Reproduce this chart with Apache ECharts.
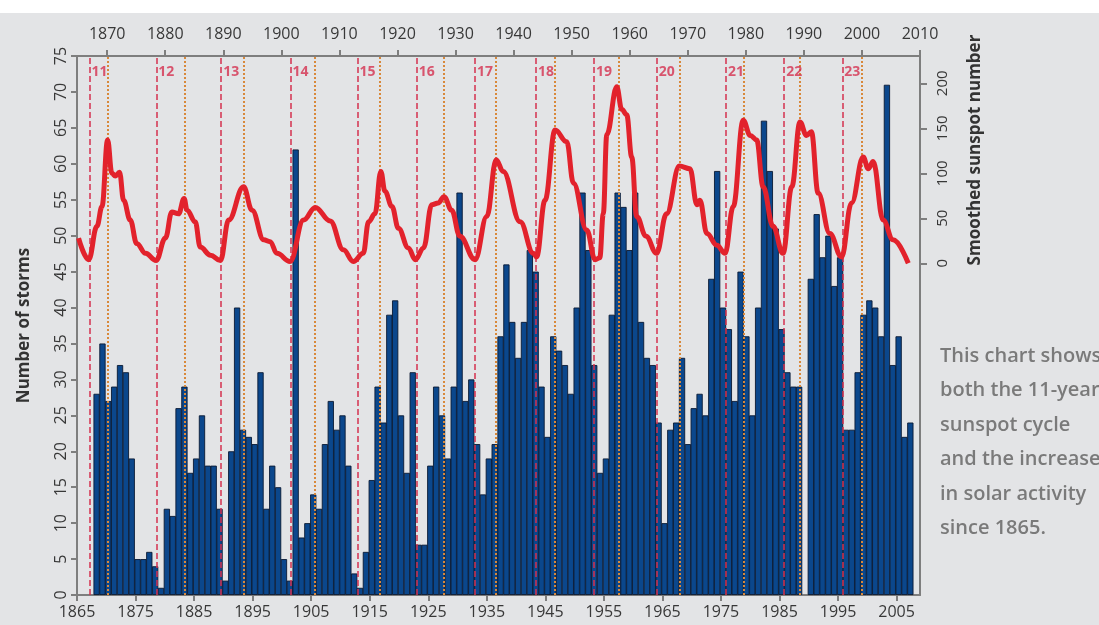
<!DOCTYPE html>
<html>
<head>
<meta charset="utf-8">
<script src="https://cdn.jsdelivr.net/npm/echarts@6/dist/echarts.min.js"></script>
<style>
  html, body { margin: 0; padding: 0; background: #fff; }
  #chart { width: 1099px; height: 625px; background: linear-gradient(#fff 0 13px, #e3e4e6 13px); }
</style>
</head>
<body>
<div id="chart"></div>
<script>
// storms per year, first bar is 1868 (1989 has no bar)
const firstYear = 1868
const storms = [
  28, 35, 27, 29, 32, 31, 19, 5, 5, 6, 4, 1,            // 1868-1879
  12, 11, 26, 29, 17, 19, 25, 18, 18, 12,               // 1880-1889
  2, 20, 40, 23, 22, 21, 31, 12, 18, 15,                // 1890-1899
  5, 2, 62, 8, 10, 14, 12, 21, 27, 23,                  // 1900-1909
  25, 18, 3, 1, 6, 16, 29, 24, 39, 41,                  // 1910-1919
  25, 17, 31, 7, 7, 18, 29, 25, 19, 29,                 // 1920-1929
  56, 27, 30, 21, 14, 19, 21, 36, 46, 38,               // 1930-1939
  33, 38, 48, 45, 29, 22, 36, 34, 32, 28,               // 1940-1949
  40, 56, 48, 32, 17, 19, 39, 56, 54, 48,               // 1950-1959
  56, 38, 33, 32, 24, 10, 23, 24, 33, 21,               // 1960-1969
  26, 28, 25, 44, 59, 40, 37, 27, 45, 36,               // 1970-1979
  25, 40, 66, 59, 51, 37, 31, 29, 29, '-',              // 1980-1989
  44, 53, 47, 50, 43, 47, 23, 23, 31, 39,               // 1990-1999
  41, 40, 36, 71, 32, 36, 22, 24                        // 2000-2007
]

// smoothed sunspot number
const spotYears = [
  1865.27, 1867.0, 1868.4, 1869.27, 1870.23, 1870.95, 1871.55, 1872.27, 1872.96, 1874.1,
  1875.2, 1876.7, 1878.5, 1880.1, 1881.2, 1882.35, 1883.3, 1883.8, 1885.2, 1886.05,
  1887.8, 1889.5, 1890.9, 1893.45, 1894.9, 1896.9, 1898.0, 1899.15, 1901.4, 1903.7,
  1905.7, 1908.25, 1910.5, 1912.2, 1913.9, 1914.8, 1915.9, 1916.9, 1917.6, 1918.8,
  1919.9, 1921.6, 1922.8, 1924.2, 1925.6, 1926.7, 1927.7, 1929.0, 1930.4, 1933.0,
  1935.0, 1936.6, 1937.8, 1940.7, 1942.95, 1943.5, 1944.95, 1946.66, 1948.66, 1949.8,
  1952.07, 1953.5, 1954.3, 1954.9, 1955.5, 1957.2, 1958.05, 1958.9, 1959.76, 1960.6,
  1962.2, 1964.0, 1965.7, 1967.9, 1969.7, 1970.9, 1971.4, 1972.6, 1974.3, 1975.7,
  1977.1, 1978.8, 1980.0, 1981.1, 1982.2, 1983.9, 1985.6, 1987.1, 1988.5, 1989.6,
  1990.45, 1991.6, 1993.6, 1995.6, 1997.3, 1999.3, 2000.15, 2001.0, 2002.7, 2004.4,
  2007.0
]
const spotValues = [
  28, 4, 41, 63, 137, 100, 97, 101, 70, 48,
  22, 11, 3, 28, 57, 55, 72, 59, 46, 18,
  9, 3, 48, 85, 59, 26, 24, 11, 2, 48,
  62, 47, 15, 2, 11, 46, 55, 102, 80, 63,
  39, 17, 4, 17, 65, 67, 74, 59, 30, 4,
  52, 115, 102, 46, 11, 7, 70, 148, 135, 89,
  37, 4, 6, 55, 143, 196, 171, 165, 118, 52,
  30, 11, 55, 108, 105, 65, 70, 33, 20, 11,
  63, 159, 142, 137, 85, 41, 11, 85, 157, 142,
  146, 78, 33, 7, 67, 118, 105, 113, 48, 26,
  0
]

// solar cycles: start (minimum) and peak (maximum) as drawn
const cycleNumbers = [11, 12, 13, 14, 15, 16, 17, 18, 19, 20, 21, 22, 23]
const cycleMin = [1867.15, 1878.54, 1889.64, 1901.47, 1912.91, 1923.05, 1933.0, 1943.42, 1953.32, 1964.03, 1975.86, 1985.81, 1995.72]
const cycleMax = [1870.23, 1883.49, 1893.45, 1905.69, 1916.78, 1927.71, 1936.59, 1946.66, 1957.59, 1967.89, 1978.81, 1988.5, 1999.13]

const bottomTicks = [1865, 1875, 1885, 1895, 1905, 1915, 1925, 1935, 1945, 1955, 1965, 1975, 1985, 1995, 2005]
const topTicks = [1870, 1880, 1890, 1900, 1910, 1920, 1930, 1940, 1950, 1960, 1970, 1980, 1990, 2000, 2010]
const spotTicks = [0, 50, 100, 150, 200]

const axisGray = '#7e7e7e'
const labelColor = '#383838'
const cycleRed = '#d5304f'
const fontFamily = 'Open Sans'
const plain = v => String(v)

// bars in the original sit a bit right of the year tick
const barShift = 0.35

const chart = echarts.init(document.getElementById('chart'))

const axisLine = { onZero: false, lineStyle: { color: axisGray, width: 2 } }
const tickStyle = { color: axisGray, width: 2 }

chart.setOption({
  animation: false,
  textStyle: { fontFamily },
  grid: { left: 77, right: 179, top: 56, bottom: 30 },
  xAxis: [
    {
      type: 'value', position: 'bottom', min: 1865, max: 2009,
      axisLine,
      axisTick: { customValues: bottomTicks, length: 6, lineStyle: tickStyle },
      axisLabel: { customValues: bottomTicks, formatter: plain, color: labelColor, fontSize: 16, margin: 9 },
      splitLine: { show: false },
    },
    {
      type: 'value', position: 'top', min: 1864.8, max: 2010,
      axisLine,
      axisTick: { customValues: topTicks, length: 6, lineStyle: tickStyle },
      axisLabel: { customValues: topTicks, formatter: plain, color: labelColor, fontSize: 16, margin: 14 },
      splitLine: { show: false },
    },
    {
      // hidden axis for the bars only
      type: 'value', show: false, min: 1865 - barShift, max: 2009 - barShift,
      splitLine: { show: false },
    },
  ],
  yAxis: [
    {
      type: 'value', min: 0, max: 75, interval: 5,
      name: 'Number of storms', nameLocation: 'middle', nameGap: 44, nameRotate: 90,
      nameTextStyle: { color: '#333', fontSize: 17, fontWeight: 'bold' },
      axisLine: { show: true, ...axisLine },
      axisTick: { show: true, length: 6, lineStyle: tickStyle },
      axisLabel: { rotate: 90, formatter: plain, color: labelColor, fontSize: 16, margin: 8 },
      splitLine: { show: false },
    },
    {
      type: 'value', position: 'right', min: -368.6, max: 230.3,
      axisLine: { show: true, ...axisLine },
      axisTick: { show: true, customValues: spotTicks, length: 7, lineStyle: tickStyle },
      axisLabel: { customValues: spotTicks, formatter: plain, rotate: 90, color: labelColor, fontSize: 15, margin: 15 },
      splitLine: { show: false },
    },
  ],
  graphic: [
    {
      type: 'text', x: 975, y: 150, rotation: Math.PI / 2,
      style: {
        text: 'Smoothed sunspot number', fill: '#333',
        font: 'bold 17px "Open Sans"', textAlign: 'center', textVerticalAlign: 'middle',
      },
    },
    {
      type: 'text', x: 940, y: 339,
      style: {
        text: 'This chart shows\nboth the 11-year\nsunspot cycle\nand the increase\nin solar activity\nsince 1865.',
        fill: '#7a7a7a', font: '600 20px "Open Sans"', lineHeight: 34.5,
      },
    },
  ],
  series: [
    {
      name: 'cycle minimum', type: 'line', data: [], z: 1,
      markLine: {
        silent: true, symbol: 'none', animation: false,
        label: { show: false },
        lineStyle: { color: cycleRed, width: 1.5, type: [6, 3] },
        data: cycleMin.map(x => ({ xAxis: x })),
      },
    },
    {
      name: 'cycle maximum', type: 'line', data: [], z: 1,
      markLine: {
        silent: true, symbol: 'none', animation: false,
        label: { show: false },
        lineStyle: { color: '#d8883a', width: 2, type: [2, 2] },
        data: cycleMax.map(x => ({ xAxis: x })),
      },
    },
    {
      name: 'Number of storms', type: 'bar', z: 3, xAxisIndex: 2,
      barWidth: 6.3,
      itemStyle: { color: '#0b478c', borderColor: '#0a1a33', borderWidth: 0.9 },
      data: storms.map((v, i) => [firstYear + i, v]),
    },
    {
      name: 'Smoothed sunspot number', type: 'line', yAxisIndex: 1, z: 5,
      smooth: 0.4, smoothMonotone: 'x', symbol: 'none',
      lineStyle: { color: '#e2222c', width: 5 },
      data: spotYears.map((x, i) => [x, spotValues[i]]),
    },
    {
      name: 'cycle', type: 'scatter', symbolSize: 0, z: 6, silent: true,
      label: {
        show: true, position: 'right', distance: 2, formatter: '{b}',
        color: cycleRed, fontSize: 14, fontWeight: 'bold',
      },
      data: cycleMin.map((x, i) => ({ name: String(cycleNumbers[i]), value: [x, 72.8] })),
    },
  ],
})
</script>
</body>
</html>
